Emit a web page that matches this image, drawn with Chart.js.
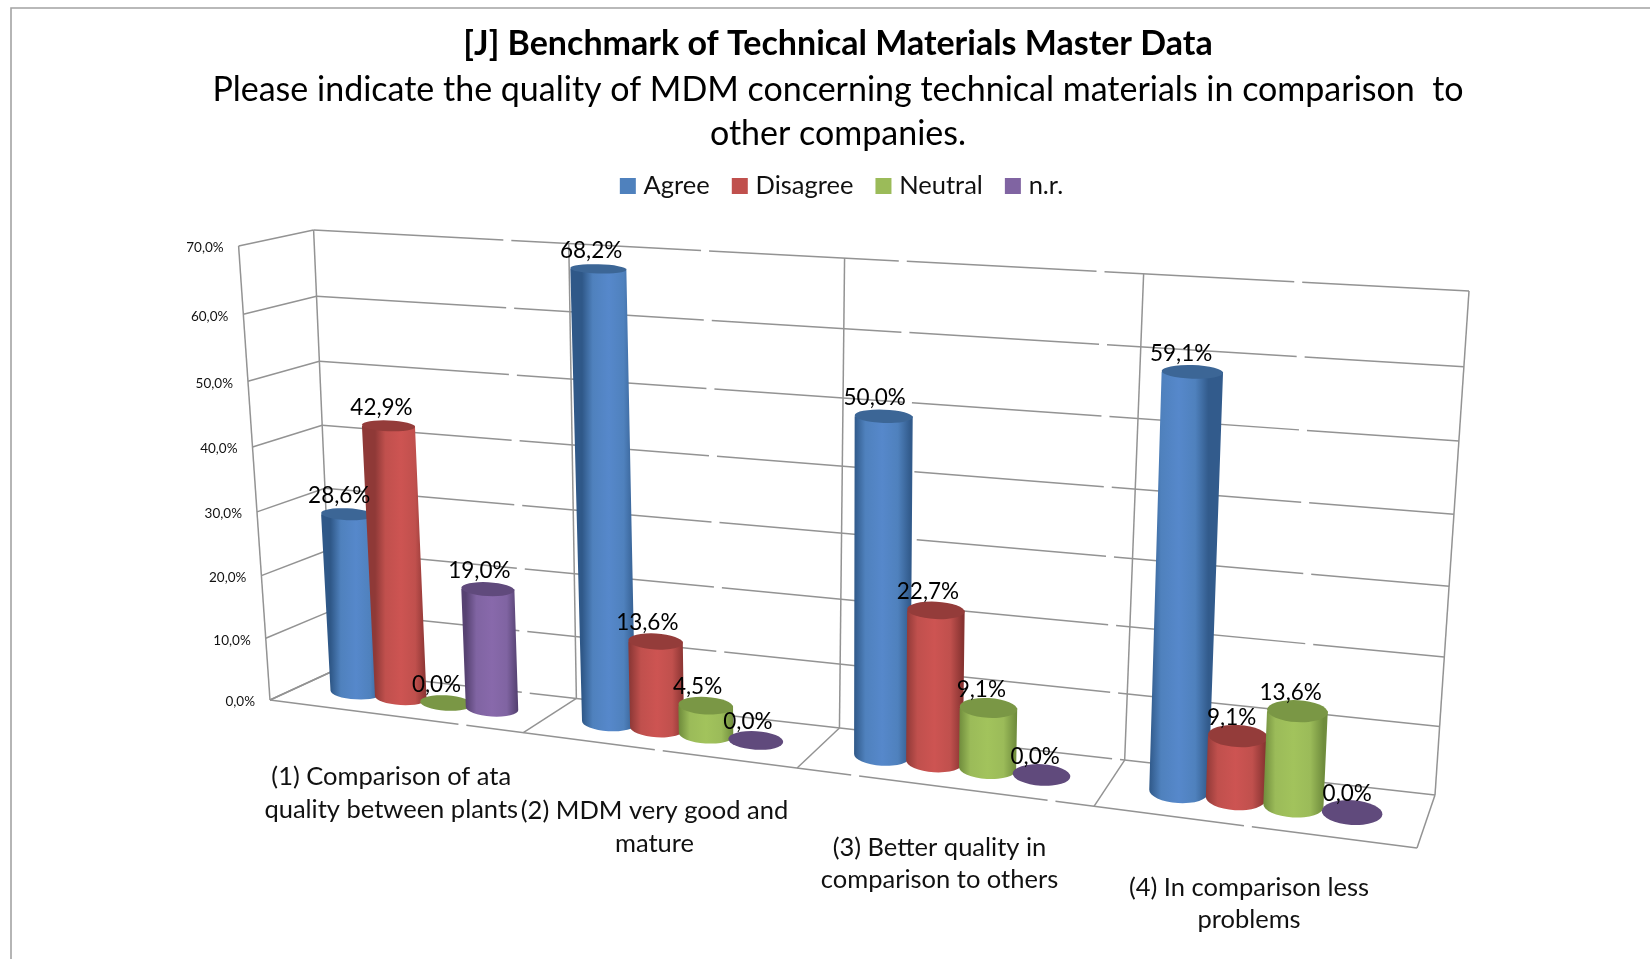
<!DOCTYPE html>
<html>
<head>
<meta charset="utf-8">
<style>
html,body{margin:0;padding:0;background:#fff;overflow:hidden}
canvas{display:block}
</style>
<script src="https://cdn.jsdelivr.net/npm/chart.js@4/dist/chart.umd.js"></script>
</head>
<body>
<canvas id="c" width="1650" height="959"></canvas>
<script>
const titleText = '[J] Benchmark of Technical Materials Master Data';
const subtitleLines = ['Please indicate the quality of MDM concerning technical materials in comparison  to', 'other companies.'];
const categories = [
  ['(1) Comparison of ata', 'quality between plants'],
  ['(2) MDM very good and', 'mature'],
  ['(3) Better quality in', 'comparison to others'],
  ['(4) In comparison less', 'problems']
];
const agree = [28.6, 68.2, 50.0, 59.1];
const disagree = [42.9, 13.6, 22.7, 9.1];
const neutral = [0.0, 4.5, 9.1, 13.6];
const notReported = [19.0, 0.0, 0.0, 0.0];

const FONT = 'Lato, Carlito, "Open Sans", sans-serif';
const palette = {
  Agree:   {flat:'#4f81bd', edgeL:'#2f5888', mid:'#5688cb', edgeR:'#325b8c', cap:'#3c6696'},
  Disagree:{flat:'#c0504d', edgeL:'#8f3937', mid:'#cd5452', edgeR:'#873331', cap:'#943c3a'},
  Neutral: {flat:'#9bbb59', edgeL:'#6f8c3c', mid:'#a2c35c', edgeR:'#708d3d', cap:'#7a9745'},
  'n.r.':  {flat:'#8064a2', edgeL:'#574272', mid:'#8869ab', edgeR:'#523f6e', cap:'#604a7c'}
};

/* perspective box: the plot's normalised space -> picture */
const box = {
  fbl:[270,700], fbr:[1417,848], ftl:[238.6,246], ftr:[1439,318],
  bbl:[333,671], bbr:[1435,795], btl:[313.6,230], btr:[1469,291]
};
const warp = (t, c) => t / (t + c * (1 - t));
function project(u, v, w) {
  const U = warp(u, 1.176), V = warp(v, 1.06);
  const pt = i => {
    const fb = box.fbl[i] + (box.fbr[i] - box.fbl[i]) * U;
    const ft = box.ftl[i] + (box.ftr[i] - box.ftl[i]) * U;
    const bb = box.bbl[i] + (box.bbr[i] - box.bbl[i]) * U;
    const bt = box.btl[i] + (box.btr[i] - box.btl[i]) * U;
    const f = fb + (ft - fb) * V, b = bb + (bt - bb) * V;
    return f + (b - f) * w;
  };
  return {x: pt(0), y: pt(1)};
}
const norm = (chart, px, val) => ({
  u: (px - chart.chartArea.left) / chart.chartArea.width,
  v: (val - chart.scales.y.min) / (chart.scales.y.max - chart.scales.y.min)
});

function paintCylinder(ctx, chart, el, colors) {
  const y = chart.scales.y, a = chart.chartArea;
  const val = y.getValueForPixel(el.y);
  const {u, v} = norm(chart, el.x, val);
  const half = el.width / 2 * (1.16 - .14 * u) / a.width;
  const depth = 0.24;
  const ends = vv => {
    const l = project(u - half, vv, .5), r = project(u + half, vv, .5);
    const f = project(u, vv, 0), b = project(u, vv, 1);
    return {cx:(l.x + r.x) / 2, cy:(l.y + r.y) / 2, rx:(r.x - l.x) / 2,
            ry:Math.abs(f.y - b.y) * depth, rot:Math.atan2(r.y - l.y, r.x - l.x) * .5};
  };
  const top = ends(v), bot = ends(0);
  ctx.save();
  if (val > 0.01) {
    const g = ctx.createLinearGradient(bot.cx - bot.rx, 0, bot.cx + bot.rx, 0);
    g.addColorStop(0, colors.edgeL);
    g.addColorStop(.2, colors.flat);
    g.addColorStop(.5, colors.mid);
    g.addColorStop(.78, colors.flat);
    g.addColorStop(1, colors.edgeR);
    ctx.fillStyle = g;
    ctx.beginPath();
    ctx.moveTo(top.cx - top.rx, top.cy);
    ctx.lineTo(bot.cx - bot.rx, bot.cy);
    ctx.ellipse(bot.cx, bot.cy, bot.rx, bot.ry, bot.rot, Math.PI, 0, true);
    ctx.lineTo(top.cx + top.rx, top.cy);
    ctx.closePath();
    ctx.fill();
  }
  ctx.fillStyle = colors.cap;
  ctx.beginPath();
  ctx.ellipse(top.cx, top.cy, top.rx, top.ry, top.rot, 0, Math.PI * 2);
  ctx.fill();
  ctx.restore();
}

class CylinderController extends Chart.BarController {
  static id = 'cylinder';
  static defaults = Chart.BarController.defaults;
  static overrides = Chart.BarController.overrides;
  draw() {
    const meta = this.getMeta(), chart = this.chart;
    const colors = palette[meta.label];
    meta.data.forEach(el => paintCylinder(chart.ctx, chart, el, colors));
  }
}
Chart.register(CylinderController);

const wallsPlugin = {
  id: 'walls',
  afterLayout(chart) {
    chart.legend.left += 6;
    chart.legend.right += 6;
  },
  beforeDraw(chart) {
    const c = chart.ctx;
    c.save();
    c.strokeStyle = '#a3a3a3'; c.lineWidth = 1.6;
    c.beginPath(); c.moveTo(11, 960); c.lineTo(11, 8); c.lineTo(1651, 8); c.stroke();
    c.strokeStyle = '#939393'; c.lineWidth = 1.5;
    const seg = (a, b) => { c.beginPath(); c.moveTo(a.x, a.y); c.lineTo(b.x, b.y); c.stroke(); };
    const y = chart.scales.y, n = categories.length;
    c.setLineDash([190, 8]);
    y.ticks.forEach(t => {
      const v = (t.value - y.min) / (y.max - y.min);
      seg(project(0, v, 0), project(0, v, 1));
      seg(project(0, v, 1), project(1, v, 1));
    });
    seg(project(0, 0, 0), project(1, 0, 0));
    c.setLineDash([]);
    seg(project(0, 0, 0), project(0, 1, 0));
    for (let i = 0; i <= n; i++) {
      seg(project(i / n, 0, 1), project(i / n, 1, 1));
      seg(project(i / n, 0, 0), project(i / n, 0, 1));
    }
    c.restore();
  },
  beforeDatasetsDraw(chart) {
    chart.getSortedVisibleDatasetMetas().forEach(m => m.controller.draw());
    return false;
  },
  afterDraw(chart) {
    const c = chart.ctx, y = chart.scales.y, x = chart.scales.x;
    c.save();
    c.textBaseline = 'middle';
    c.fillStyle = '#111';
    /* value tick labels on the slanted front edge */
    c.textAlign = 'right';
    c.font = '13.5px ' + FONT;
    y.ticks.forEach(t => {
      const p = project(0, (t.value - y.min) / (y.max - y.min), 0);
      c.fillText(t.label, p.x - 15, p.y + 2);
    });
    /* category labels under the front floor edge */
    c.textAlign = 'center';
    c.font = '25.5px ' + FONT;
    categories.forEach((lines, i) => {
      const p = project(norm(chart, x.getPixelForValue(i), 0).u, 0, 0);
      lines.forEach((s, k) => c.fillText(s, p.x - 3, p.y + 61 + k * 32.5));
    });
    /* value labels above each cylinder top */
    c.font = '22.5px ' + FONT;
    c.fillStyle = '#000';
    chart.getSortedVisibleDatasetMetas().forEach(m => {
      m.data.forEach((el, i) => {
        const val = m.controller.getDataset().data[i];
        const q = norm(chart, el.x, val);
        const p = project(q.u, q.v, .5);
        const dx = -4 - 10 * q.u + 16 * (q.u - .4) * (1 - q.v);
        c.fillText(val.toFixed(1).replace('.', ',') + '%', p.x + dx, p.y - 18.5);
      });
    });
    c.restore();
  }
};

const mk = (label, data) => ({
  label, data, type: 'cylinder',
  backgroundColor: palette[label].flat,
  borderColor: palette[label].flat,
  borderWidth: 10,
  categoryPercentage: .73,
  barPercentage: 1
});

new Chart(document.getElementById('c'), {
  type: 'cylinder',
  data: {
    labels: categories,
    datasets: [mk('Agree', agree), mk('Disagree', disagree), mk('Neutral', neutral), mk('n.r.', notReported)]
  },
  plugins: [wallsPlugin],
  options: {
    responsive: false,
    animation: false,
    layout: {padding: {left: 26, top: 23, right: 0, bottom: 0}},
    events: [],
    scales: {
      x: {display: false, grid: {display: false}},
      y: {display: false, min: 0, max: 70,
          ticks: {stepSize: 10, callback: v => v.toFixed(1).replace('.', ',') + '%'}}
    },
    plugins: {
      tooltip: {enabled: false},
      title: {display: true, text: titleText, color: '#000',
              font: {family: FONT, size: 34, weight: 'bold', lineHeight: 1.23}, padding: {top: 0, bottom: 3}},
      subtitle: {display: true, text: subtitleLines, color: '#000',
              font: {family: FONT, size: 34, weight: 'normal', lineHeight: 1.3}, padding: {top: 0, bottom: -10}},
      legend: {display: true, position: 'top', align: 'center',
              labels: {boxWidth: 6, boxHeight: 6, padding: 27, color: '#111',
                       font: {family: FONT, size: 25.5}}}
    }
  }
});
</script>
</body>
</html>
